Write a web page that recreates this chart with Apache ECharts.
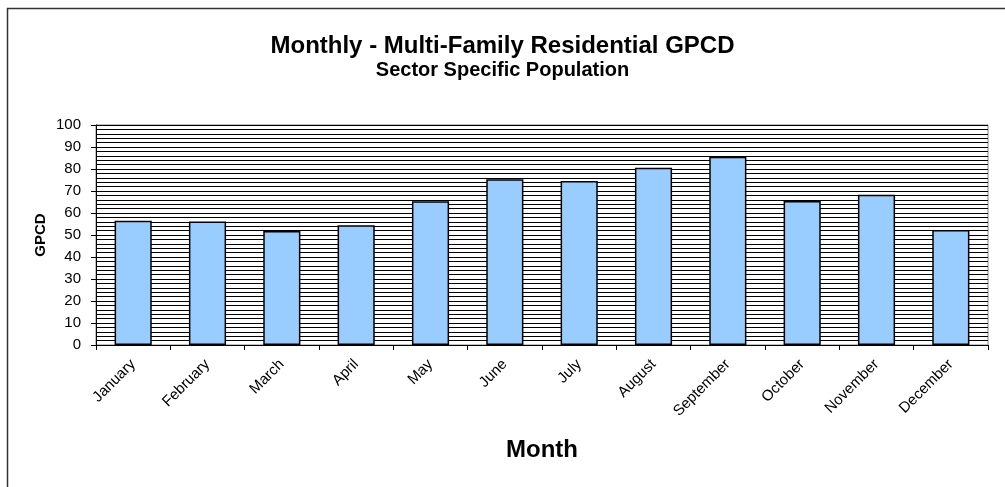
<!DOCTYPE html>
<html>
<head>
<meta charset="utf-8">
<script src="https://cdn.jsdelivr.net/npm/echarts@6/dist/echarts.min.js"></script>
<style>
  html, body { margin: 0; padding: 0; background: #fff; }
  #main { width: 1005px; height: 487px; }
</style>
</head>
<body>
<div id="main"></div>
<script>
// months on the x axis
var months = ['January', 'February', 'March', 'April', 'May', 'June',
  'July', 'August', 'September', 'October', 'November', 'December'];
// gallons per capita per day
var gpcd = [56.5, 56.1, 51.8, 54.4, 65.3, 75.3, 74.5, 80.6, 85.6, 65.5, 68.3, 52.3];

var myChart = echarts.init(document.getElementById('main'));
var font = 'Arial, "Liberation Sans", sans-serif';

myChart.setOption({
  animation: false,
  title: [{
    text: 'Monthly - Multi-Family Residential GPCD',
    left: 'center',
    top: 29,
    textStyle: { fontFamily: font, fontWeight: 'bold', fontSize: 24, color: '#000' }
  }, {
    text: 'Sector Specific Population',
    left: 'center',
    top: 55,
    textStyle: { fontFamily: font, fontWeight: 'bold', fontSize: 20, color: '#000' }
  }],
  // outer chart frame (only top and left visible in the picture)
  graphic: [{
    type: 'rect',
    shape: { x: 7.5, y: 8.5, width: 1100, height: 600 },
    style: { fill: null, stroke: '#333', lineWidth: 1.5 },
    silent: true
  }],
  grid: {
    left: 96, right: 17, top: 125, bottom: 142,
    show: true, borderColor: '#808080', borderWidth: 1
  },
  xAxis: {
    type: 'category',
    data: months,
    name: 'Month',
    nameLocation: 'middle',
    nameGap: 93,
    nameMoveOverlap: false,
    nameTextStyle: { fontFamily: font, fontWeight: 'bold', fontSize: 24, color: '#000' },
    axisLine: { lineStyle: { color: '#000' } },
    axisTick: { show: true, length: 5, lineStyle: { color: '#000' } },
    axisLabel: { rotate: 45, fontFamily: font, fontSize: 15, color: '#000', margin: 17 }
  },
  yAxis: {
    type: 'value',
    min: 0, max: 100, interval: 10,
    name: 'GPCD',
    nameLocation: 'middle',
    nameGap: 48,
    nameMoveOverlap: false,
    nameRotate: 90,
    nameTextStyle: { fontFamily: font, fontWeight: 'bold', fontSize: 15, color: '#000' },
    axisLine: { show: true, lineStyle: { color: '#000' } },
    axisTick: { show: true, length: 5, lineStyle: { color: '#000' } },
    axisLabel: { fontFamily: font, fontSize: 15, color: '#000', margin: 15 },
    splitLine: { show: true, lineStyle: { color: '#000', width: 1 } },
    minorTick: { show: false, splitNumber: 5 },
    minorSplitLine: { show: true, lineStyle: { color: '#000', width: 1 } }
  },
  series: [{
    type: 'bar',
    data: gpcd,
    barWidth: '50%',
    itemStyle: { color: '#99CCFF', borderColor: '#000', borderWidth: 1.5 }
  }]
});
</script>
</body>
</html>
